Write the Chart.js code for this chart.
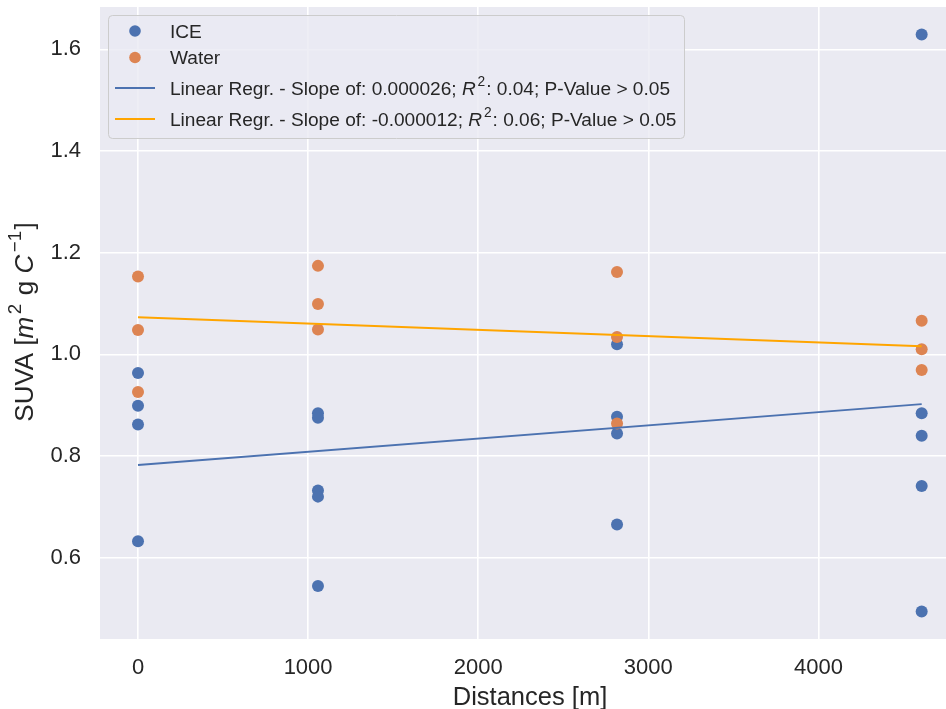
<!DOCTYPE html>
<html>
<head>
<meta charset="utf-8">
<script src="https://cdn.jsdelivr.net/npm/chart.js@4.4.1/dist/chart.umd.min.js"></script>
<style>
  body { margin: 0; background: #ffffff; }
  canvas { display: block; }
</style>
</head>
<body>
<canvas id="myChart" width="946" height="709"></canvas>
<script>
/*  SUVA vs distance  */

  const iceX = [0, 0, 0, 0, 1058, 1058, 1058, 1058, 1058, 2816, 2816, 2816, 2816, 4607, 4607, 4607, 4607, 4607];
  const iceY = [0.963, 0.899, 0.862, 0.632, 0.884, 0.875, 0.732, 0.720, 0.544, 1.020, 0.877, 0.844, 0.665, 1.629, 0.884, 0.840, 0.741, 0.494];
  const waterX = [0, 0, 0, 1058, 1058, 1058, 2816, 2816, 2816, 4607, 4607, 4607];
  const waterY = [1.153, 1.048, 0.926, 1.174, 1.099, 1.049, 1.162, 1.034, 0.864, 1.066, 1.010, 0.969];
  const fitX = [0, 4607];
  const iceFitY = [0.782, 0.902];
  const waterFitY = [1.073, 1.016];
  const xTicks = [0, 1000, 2000, 3000, 4000];
  const yTicks = [0.6, 0.8, 1.0, 1.2, 1.4, 1.6];
  const iceLabel = ['Linear Regr. - Slope of: 0.000026; ', 'R', '2', ': 0.04; P-Value > 0.05'];
  const waterLabel = ['Linear Regr. - Slope of: -0.000012; ', 'R', '2', ': 0.06; P-Value > 0.05'];

  const BLUE = '#4C72B0';
  const ORANGE = '#DD8452';
  const FIT_ORANGE = '#FFA500';
  const TEXT = '#262626';
  const FONT = '"Liberation Sans", Arial, sans-serif';

  const pts = (xs, ys) => xs.map((x, i) => ({ x: x, y: ys[i] }));

  // draws a list of pieces, each {t, italic, sup}
  function richText(ctx, pieces, x, y, size, align) {
    const fontOf = p => (p.italic ? 'italic ' : '') + (p.sup ? size * 0.72 : size) + 'px ' + FONT;
    const gapOf = p => (p.italic ? size * 0.1 : 0) + (p.sup ? size * 0.05 : 0);
    let total = 0;
    pieces.forEach(p => { ctx.font = fontOf(p); total += ctx.measureText(p.t).width + gapOf(p); });
    let cx = align === 'center' ? x - total / 2 : x;
    ctx.textAlign = 'left';
    ctx.textBaseline = 'alphabetic';
    pieces.forEach(p => {
      ctx.font = fontOf(p);
      ctx.fillText(p.t, cx, p.sup ? y - size * 0.45 : y);
      cx += ctx.measureText(p.t).width + gapOf(p);
    });
  }

  // no automatic padding from the tick labels
  function noPad(scale) {
    scale.paddingTop = 0;
    scale.paddingBottom = 0;
    scale.paddingLeft = 0;
    scale.paddingRight = 0;
  }

  const bgPlugin = {
    id: 'bg',
    beforeDraw(chart) {
      const a = chart.chartArea;
      const ctx = chart.ctx;
      ctx.save();
      ctx.fillStyle = '#EAEAF2';
      ctx.fillRect(a.left, a.top, a.right - a.left, a.bottom - a.top);
      ctx.restore();
    }
  };

  const decoPlugin = {
    id: 'deco',
    afterDatasetsDraw(chart) {
      const ctx = chart.ctx;
      ctx.save();
      ctx.fillStyle = TEXT;

      // axis titles
      richText(ctx, [{ t: 'Distances [m]' }], 530, 705, 25.5, 'center');
      ctx.save();
      ctx.translate(33, 322);
      ctx.rotate(-Math.PI / 2);
      richText(ctx, [
        { t: 'SUVA [' }, { t: 'm', italic: true }, { t: '2', sup: true },
        { t: ' g ' }, { t: 'C', italic: true }, { t: '\u22121', sup: true }, { t: ']' }
      ], 0, 0, 26, 'center');
      ctx.restore();

      // legend box
      ctx.beginPath();
      ctx.roundRect(108.5, 15.5, 576, 123, 4);
      ctx.fillStyle = 'rgba(234,234,242,0.8)';
      ctx.fill();
      ctx.strokeStyle = '#CCCCCC';
      ctx.lineWidth = 1;
      ctx.stroke();

      const fs = 19.1;
      const rows = [
        { kind: 'dot', color: BLUE, y: 31, label: [{ t: 'ICE' }] },
        { kind: 'dot', color: ORANGE, y: 57.5, label: [{ t: 'Water' }] },
        { kind: 'line', color: BLUE, y: 88, label: [{ t: iceLabel[0] }, { t: iceLabel[1], italic: true }, { t: iceLabel[2], sup: true }, { t: iceLabel[3] }] },
        { kind: 'line', color: FIT_ORANGE, y: 119, label: [{ t: waterLabel[0] }, { t: waterLabel[1], italic: true }, { t: waterLabel[2], sup: true }, { t: waterLabel[3] }] }
      ];
      rows.forEach(r => {
        if (r.kind === 'dot') {
          ctx.beginPath();
          ctx.arc(135, r.y, 5.8, 0, Math.PI * 2);
          ctx.fillStyle = r.color;
          ctx.fill();
        } else {
          ctx.beginPath();
          ctx.moveTo(115, r.y);
          ctx.lineTo(155, r.y);
          ctx.strokeStyle = r.color;
          ctx.lineWidth = 2;
          ctx.stroke();
        }
        ctx.fillStyle = TEXT;
        richText(ctx, r.label, 170, r.y + 6.5, fs, 'left');
      });
      ctx.restore();
    }
  };

  const ctx = document.getElementById('myChart').getContext('2d');
  const myChart = new Chart(ctx, {
    type: 'scatter',
    data: {
      datasets: [{
        label: 'ICE',
        data: pts(iceX, iceY),
        backgroundColor: BLUE,
        borderWidth: 0,
        pointRadius: 6,
        order: 2
      }, {
        label: 'Water',
        data: pts(waterX, waterY),
        backgroundColor: ORANGE,
        borderWidth: 0,
        pointRadius: 6,
        order: 1
      }, {
        label: 'ICE fit',
        data: pts(fitX, iceFitY),
        showLine: true,
        borderColor: BLUE,
        borderWidth: 2,
        pointRadius: 0,
        order: 0
      }, {
        label: 'Water fit',
        data: pts(fitX, waterFitY),
        showLine: true,
        borderColor: FIT_ORANGE,
        borderWidth: 2,
        pointRadius: 0,
        order: 0
      }]
    },
    options: {
      responsive: false,
      animation: false,
      devicePixelRatio: 1,
      layout: { autoPadding: false, padding: { top: 7, right: 0, bottom: 0, left: 0 } },
      plugins: {
        legend: { display: false },
        tooltip: { enabled: false }
      },
      scales: {
        x: {
          type: 'linear',
          min: -223.4,
          max: 4750,
          afterFit(scale) { scale.height = 70; noPad(scale); },
          afterBuildTicks(scale) { scale.ticks = xTicks.map(v => ({ value: v })); },
          grid: { color: '#ffffff', lineWidth: 1.6, drawTicks: false },
          border: { display: false },
          ticks: {
            color: TEXT,
            padding: 16,
            font: { family: FONT, size: 22 },
            maxRotation: 0,
            callback: v => String(v)
          }
        },
        y: {
          type: 'linear',
          min: 0.4399,
          max: 1.6833,
          afterFit(scale) { scale.width = 100; noPad(scale); },
          afterBuildTicks(scale) { scale.ticks = yTicks.map(v => ({ value: v })); },
          grid: { color: '#ffffff', lineWidth: 1.6, drawTicks: false },
          border: { display: false },
          ticks: {
            color: TEXT,
            padding: 19,
            font: { family: FONT, size: 22 },
            callback: v => v.toFixed(1)
          }
        }
      }
    },
    plugins: [bgPlugin, decoPlugin]
  });
</script>
</body>
</html>
